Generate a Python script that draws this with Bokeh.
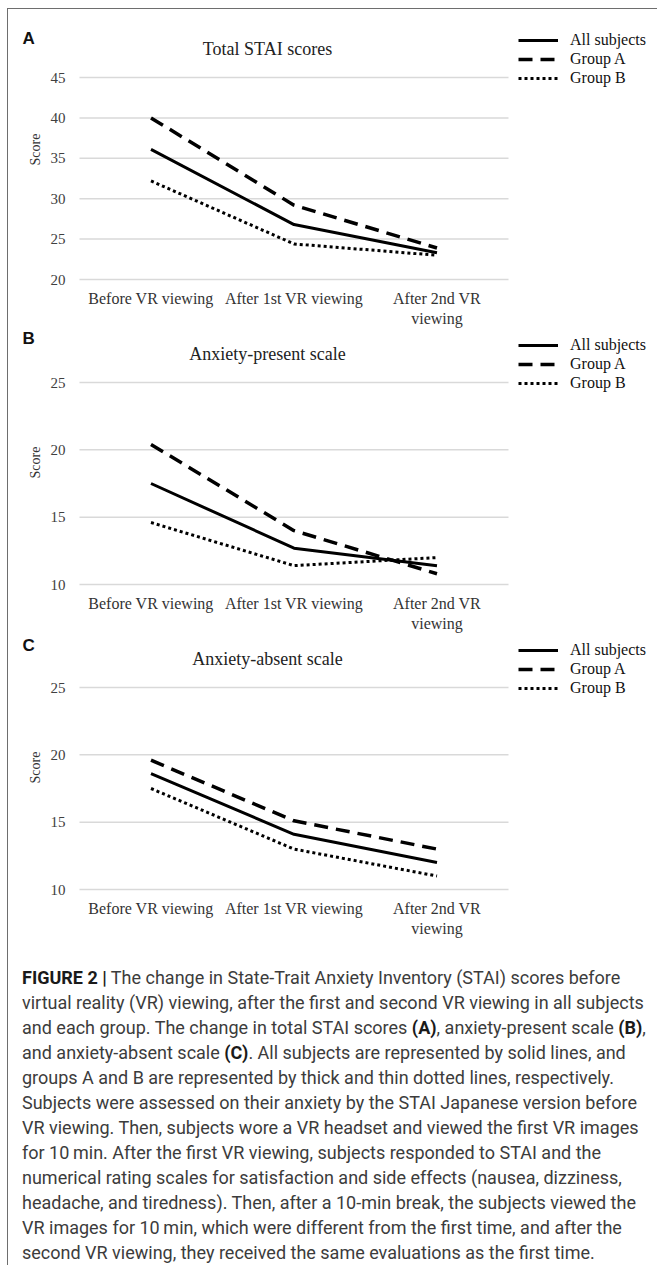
from bokeh.plotting import figure
from bokeh.models import (Legend, LegendItem, Label, Div, Range1d, LinearAxis,
                          FixedTicker)
from bokeh.layouts import column
from bokeh.embed import file_html
from bokeh.resources import INLINE

# ---------------- data ----------------
categories = ["Before VR viewing", "After 1st VR viewing", "After 2nd VR\nviewing"]
series_names = ["All subjects", "Group A", "Group B"]

total_all = [36.1, 26.8, 23.3]
total_a = [40.0, 29.2, 23.9]
total_b = [32.2, 24.4, 23.0]

present_all = [17.5, 12.7, 11.4]
present_a = [20.4, 14.0, 10.8]
present_b = [14.6, 11.4, 12.0]

absent_all = [18.6, 14.1, 12.0]
absent_a = [19.6, 15.1, 13.0]
absent_b = [17.5, 13.0, 11.0]

total_ticks = [20, 25, 30, 35, 40, 45]
scale_ticks = [10, 15, 20, 25]

panel_letters = ["A", "B", "C"]
panel_titles = ["Total STAI scores", "Anxiety-present scale", "Anxiety-absent scale"]

SERIF = "Liberation Serif"

# ---------------- geometry (pixels) ----------------
FIG_W = 641          # figure width (frame covers all of it)
PLOT_LEFT = 71       # left of the gridded area inside the figure
CAT_W = 143          # width of one category slot
GRID_H = 202         # height between lowest and highest tick
EXT = 10             # frame extends this far below the lowest tick
x_idx = list(range(len(categories)))
x_lo = -0.5 - PLOT_LEFT / CAT_W
x_hi = x_lo + FIG_W / CAT_W


def make_panel(letter, title, series, ticks, frame_h, bottom, letter_y):
    lo, hi = ticks[0], ticks[-1]
    unit = (hi - lo) / GRID_H
    p = figure(x_range=Range1d(x_lo, x_hi),
               y_range=Range1d(lo - EXT * unit, lo + (frame_h - EXT) * unit),
               frame_width=FIG_W, frame_height=frame_h,
               x_axis_location=None, y_axis_location=None,
               min_border_left=0, min_border_right=0, min_border_top=0,
               min_border_bottom=bottom,
               output_backend="svg", toolbar_location=None)
    p.outline_line_color = None
    p.background_fill_color = "white"
    p.border_fill_color = "white"
    p.grid.grid_line_color = None

    # horizontal grid lines spanning the three category slots
    p.segment(x0=[x_idx[0] - 0.5] * len(ticks), x1=[x_idx[-1] + 0.5] * len(ticks),
              y0=ticks, y1=ticks, line_color="#d9d9d9", line_width=1.5)

    ya = LinearAxis(ticker=FixedTicker(ticks=ticks), fixed_location=x_idx[0] - 0.5)
    ya.axis_line_color = None
    ya.major_tick_line_color = None
    ya.minor_tick_line_color = None
    ya.major_tick_out = 0
    ya.major_tick_in = 0
    ya.major_label_standoff = 14
    ya.major_label_text_font = SERIF
    ya.major_label_text_font_size = "15px"
    ya.major_label_text_color = "#404040"
    ya.axis_label = "Score"
    ya.axis_label_text_font = SERIF
    ya.axis_label_text_font_size = "14px"
    ya.axis_label_text_font_style = "normal"
    ya.axis_label_text_color = "#333333"
    ya.axis_label_standoff = 5
    p.add_layout(ya, "left")

    xa = LinearAxis(ticker=FixedTicker(ticks=x_idx),
                    major_label_overrides={i: c for i, c in zip(x_idx, categories)})
    xa.axis_line_color = None
    xa.major_tick_line_color = None
    xa.minor_tick_line_color = None
    xa.major_tick_out = 0
    xa.major_tick_in = 0
    xa.major_label_standoff = 0
    xa.major_label_text_font = SERIF
    xa.major_label_text_font_size = "16px"
    xa.major_label_text_color = "#333333"
    p.add_layout(xa, "below")

    r1 = p.line(x_idx, series[0], line_color="black", line_width=3)
    r2 = p.line(x_idx, series[1], line_color="black", line_width=3.5, line_dash="14 8")
    r3 = p.line(x_idx, series[2], line_color="black", line_width=3, line_dash="3 3")

    legend = Legend(items=[LegendItem(label=series_names[0], renderers=[r1]),
                           LegendItem(label=series_names[1], renderers=[r2]),
                           LegendItem(label=series_names[2], renderers=[r3])],
                    location=(510, 202))
    legend.label_text_font = SERIF
    legend.label_text_font_size = "16px"
    legend.label_text_color = "#111111"
    legend.glyph_width = 40
    legend.glyph_height = 18
    legend.label_height = 18
    legend.spacing = 1
    legend.padding = 0
    legend.margin = 0
    legend.label_standoff = 12
    legend.border_line_color = None
    legend.background_fill_alpha = 0
    p.add_layout(legend)

    p.add_layout(Label(x=14, y=letter_y, x_units="screen", y_units="screen", text=letter,
                       text_font="Liberation Sans", text_font_style="bold",
                       text_font_size="17px", text_baseline="middle", text_color="#111111"))
    p.add_layout(Label(x=259, y=241, x_units="screen", y_units="screen", text=title,
                       text_font=SERIF, text_font_size="18px", text_align="center",
                       text_baseline="middle", text_color="#222222"))
    return p


pA = make_panel(panel_letters[0], panel_titles[0], [total_all, total_a, total_b],
                total_ticks, 280, 41, 251)
pB = make_panel(panel_letters[1], panel_titles[1], [present_all, present_a, present_b],
                scale_ticks, 264, 41, 256)
pC = make_panel(panel_letters[2], panel_titles[2], [absent_all, absent_a, absent_b],
                scale_ticks, 264, 51, 254)

caption_lines = [
    "<b style='color:#1a1a1a'>FIGURE 2 |</b> The change in State-Trait Anxiety Inventory (STAI) scores before",
    "virtual reality (VR) viewing, after the first and second VR viewing in all subjects",
    "and each group. The change in total STAI scores <b style='color:#1a1a1a'>(A)</b>, anxiety-present scale <b style='color:#1a1a1a'>(B)</b>,",
    "and anxiety-absent scale <b style='color:#1a1a1a'>(C)</b>. All subjects are represented by solid lines, and",
    "groups A and B are represented by thick and thin dotted lines, respectively.",
    "Subjects were assessed on their anxiety by the STAI Japanese version before",
    "VR viewing. Then, subjects wore a VR headset and viewed the first VR images",
    "for 10\u2009min. After the first VR viewing, subjects responded to STAI and the",
    "numerical rating scales for satisfaction and side effects (nausea, dizziness,",
    "headache, and tiredness). Then, after a 10-min break, the subjects viewed the",
    "VR images for 10\u2009min, which were different from the first time, and after the",
    "second VR viewing, they received the same evaluations as the first time.",
]
caption_html = ("<div style=\"margin:15px 0 0 14px; font-family:Roboto; font-size:18px; "
                 "line-height:25px; color:#3c3c3c; white-space:nowrap;\">"
                 + "<br>".join(caption_lines) + "</div>")
div = Div(text=caption_html, width=641, height=315, margin=0)

layout = column(pA, pB, pC, div, spacing=0, margin=(8, 0, 0, 7),
                styles={"border-left": "1px solid #6e6e6e", "border-top": "1px solid #6e6e6e",
                        "padding-right": "8px"})

open("out.html", "w").write(file_html(layout, INLINE))
